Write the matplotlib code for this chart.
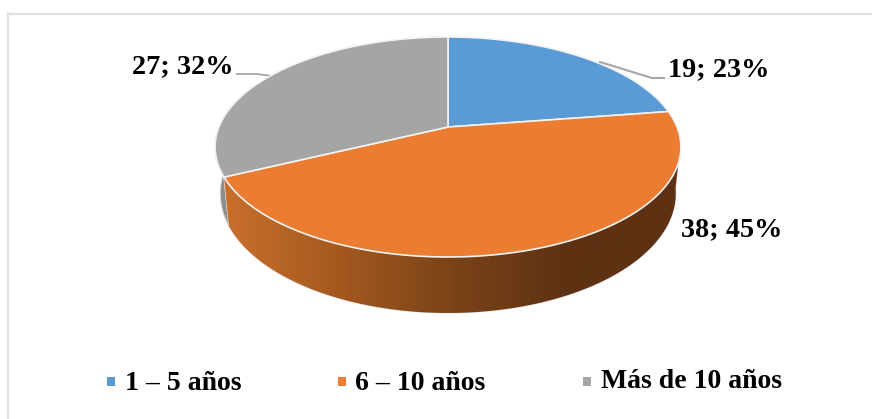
import numpy as np
import matplotlib
matplotlib.use('Agg')
import matplotlib.pyplot as plt
from matplotlib.colors import LinearSegmentedColormap
from matplotlib.patches import Polygon, Rectangle

plt.rcParams['font.family'] = ['Liberation Serif', 'DejaVu Serif']

categories = ['1 – 5 años', '6 – 10 años', 'Más de 10 años']
values = [19, 38, 27]
percents = ['23%', '45%', '32%']
colors = ['#5B9BD5', '#EB7C31', '#A5A5A5']


#circle angle (degrees clockwise from top) to pixel position, perspective tilt
def rim(theta, lower=False):
    t = np.radians(theta)
    u, v = np.sin(t), np.cos(t)
    den = 0.1818 * v + 1
    x = 448 + 229 * u / den
    y = (127 - 83.27 * v) / den
    if lower:
        # bottom rim sits lower and is a bit narrower
        x = 448 + (x - 448) * 0.978
        y = 226 + (y - 177) * 1.0875
    return np.column_stack([x, y])


fig = plt.figure(figsize=(8.72, 4.19), dpi=100)
ax = fig.add_axes([0, 0, 1, 1])
ax.set_xlim(0, 872)
ax.set_ylim(419, 0)
ax.axis('off')

# chart frame, only top and left are inside the crop
ax.plot([8, 8], [419, 14], color='#E0E0E0', lw=1.6)
ax.plot([8, 872], [14, 14], color='#E0E0E0', lw=1.6)

edges = np.cumsum([0] + values) / sum(values) * 360

# side wall of the grey slice
th = np.linspace(edges[2], 285, 40)
wall = np.vstack([rim(th), rim(th[::-1], True)])
ax.add_patch(Polygon(wall, closed=True, facecolor='#8C8C8C', edgecolor='#D9D9D9', lw=0.8, zorder=1))

# side wall of the orange slice, gradient fill
th = np.linspace(98, edges[2], 120)
wall = np.vstack([rim(th), rim(th[::-1], True)])
patch = Polygon(wall, closed=True, facecolor='none', edgecolor='#E0E0E0', lw=0.8, zorder=2)
ax.add_patch(patch)
shade = LinearSegmentedColormap.from_list('wall', ['#C96F2B', '#A4591F', '#7A4317', '#5E3113', '#5E3113'])
img = ax.imshow(np.linspace(0, 1, 256)[None, :], extent=(224, 681, 320, 140), cmap=shade,
                aspect='auto', zorder=2)
img.set_clip_path(patch)
ax.set_xlim(0, 872)
ax.set_ylim(419, 0)

# top faces
for i in range(3):
    th = np.linspace(edges[i], edges[i + 1], 120)
    pts = np.vstack([[448, 127], rim(th)])
    ax.add_patch(Polygon(pts, closed=True, facecolor=colors[i], edgecolor='#F2F2F2', lw=1.2,
                         joinstyle='round', zorder=3))

# leader lines
ax.plot([600, 652, 664], [62, 78, 78], color='#A6A6A6', lw=1.5, zorder=4)
ax.plot([237, 257, 272], [74, 74, 76], color='#A6A6A6', lw=1.3, zorder=2)

# data labels
label_pos = [(668, 70), (681, 230), (132, 67)]
for i in range(3):
    ax.text(label_pos[i][0], label_pos[i][1], f'{values[i]}; {percents[i]}', fontsize=20.3,
            fontweight='bold', ha='left', va='center', color='black', zorder=5)

# legend
marker_x = [107, 338, 583]
text_x = [125, 355, 601]
text_y = [383, 383, 381]
for i in range(3):
    ax.add_patch(Rectangle((marker_x[i], 377), 8, 9, facecolor=colors[i], edgecolor='none'))
    ax.text(text_x[i], text_y[i], categories[i], fontsize=20, fontweight='bold', ha='left',
            va='center', color='black')

fig.savefig('out.png', dpi=100)
